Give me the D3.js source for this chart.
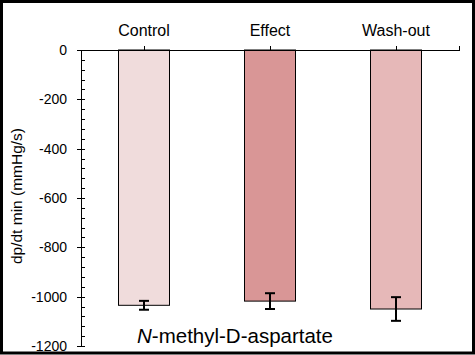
<!DOCTYPE html>
<html>
<head>
<meta charset="utf-8">
<script src="https://cdn.jsdelivr.net/npm/d3@7/dist/d3.min.js"></script>
<style>
  html, body { margin: 0; padding: 0; background: #fff; }
  svg { display: block; font-family: "Liberation Sans", Arial, sans-serif; }
</style>
</head>
<body>
<svg id="chart" width="475" height="355"></svg>
<script>
const categories = ["Control", "Effect", "Wash-out"];
const values = [-1035, -1018, -1050];
const errors = [18, 32, 48];
const colors = ["#f0dcdc", "#d99696", "#e6b8b8"];
const yTicks = [0, -200, -400, -600, -800, -1000, -1200];
const yMinorTicks = d3.range(0, -1201, -40);
const yLabel = "dp/dt min (mmHg/s)";

const svg = d3.select("#chart");
const W = 475, H = 355;
const mLeft = 81, mRight = 459, mTop = 50, mBottom = 346;

const x = d3.scaleBand().domain(categories).range([mLeft, mRight]);
const y = d3.scaleLinear().domain([0, -1200]).range([mTop, mBottom]);
const barW = 51;

svg.append("rect").attr("x", 0).attr("y", 0).attr("width", W).attr("height", H).attr("fill", "#fff");

// bars
svg.selectAll("rect.bar").data(categories).enter().append("rect")
  .attr("class", "bar")
  .attr("x", (d) => x(d) + x.bandwidth() / 2 - barW / 2)
  .attr("y", y(0))
  .attr("width", barW)
  .attr("height", (d, i) => y(values[i]) - y(0))
  .attr("fill", (d, i) => colors[i])
  .attr("stroke", "#000")
  .attr("stroke-width", 1);

// error bars
const eg = svg.append("g").attr("stroke", "#000").attr("stroke-width", 2);
categories.forEach((c, i) => {
  const cx = x(c) + x.bandwidth() / 2;
  const y1 = y(values[i] + errors[i]), y2 = y(values[i] - errors[i]);
  eg.append("line").attr("x1", cx).attr("x2", cx).attr("y1", y1).attr("y2", y2);
  eg.append("line").attr("x1", cx - 5).attr("x2", cx + 5).attr("y1", y1).attr("y2", y1);
  eg.append("line").attr("x1", cx - 5).attr("x2", cx + 5).attr("y1", y2).attr("y2", y2);
});

// top category axis
const ax = svg.append("g").attr("stroke", "#000").attr("stroke-width", 1).attr("shape-rendering", "crispEdges");
ax.append("line").attr("x1", mLeft - 4).attr("x2", mRight + 1).attr("y1", mTop + 0.5).attr("y2", mTop + 0.5);
categories.forEach((c) => {
  const cx = Math.round(x(c) + x.bandwidth() / 2) + 0.5;
  ax.append("line").attr("x1", cx).attr("x2", cx).attr("y1", mTop - 4).attr("y2", mTop);
});
ax.append("line").attr("x1", mRight + 0.5).attr("x2", mRight + 0.5).attr("y1", mTop - 4).attr("y2", mTop);

svg.selectAll("text.cat").data(categories).enter().append("text")
  .attr("class", "cat")
  .attr("x", (d) => x(d) + x.bandwidth() / 2)
  .attr("y", 36)
  .attr("text-anchor", "middle")
  .attr("font-size", 16)
  .attr("fill", "#000")
  .text((d) => d);

// y axis
ax.append("line").attr("x1", mLeft + 0.5).attr("x2", mLeft + 0.5).attr("y1", mTop).attr("y2", mBottom + 1);
yMinorTicks.forEach((t) => {
  const yy = Math.round(y(t)) + 0.5;
  ax.append("line").attr("x1", mLeft).attr("x2", mLeft + 4).attr("y1", yy).attr("y2", yy);
});
yTicks.forEach((t) => {
  const yy = Math.round(y(t)) + 0.5;
  ax.append("line").attr("x1", mLeft - 4).attr("x2", mLeft + 4).attr("y1", yy).attr("y2", yy);
});
svg.selectAll("text.ytick").data(yTicks).enter().append("text")
  .attr("class", "ytick")
  .attr("x", 67)
  .attr("y", (d) => y(d) + 5)
  .attr("text-anchor", "end")
  .attr("font-size", 14)
  .attr("fill", "#000")
  .text((d) => d);

svg.append("text")
  .attr("transform", "translate(22,196) rotate(-90)")
  .attr("text-anchor", "middle")
  .attr("font-size", 15.5)
  .attr("fill", "#000")
  .text(yLabel);

// drug label
const lbl = svg.append("text")
  .attr("x", 235).attr("y", 343)
  .attr("text-anchor", "middle")
  .attr("font-size", 20.5)
  .attr("fill", "#000");
lbl.append("tspan").attr("font-style", "italic").text("N");
lbl.append("tspan").text("-methyl-D-aspartate");

// frame
svg.append("rect").attr("x", 1.5).attr("y", 1.5).attr("width", W - 3).attr("height", H - 3.5)
  .attr("fill", "none").attr("stroke", "#000").attr("stroke-width", 3);
</script>
</body>
</html>
